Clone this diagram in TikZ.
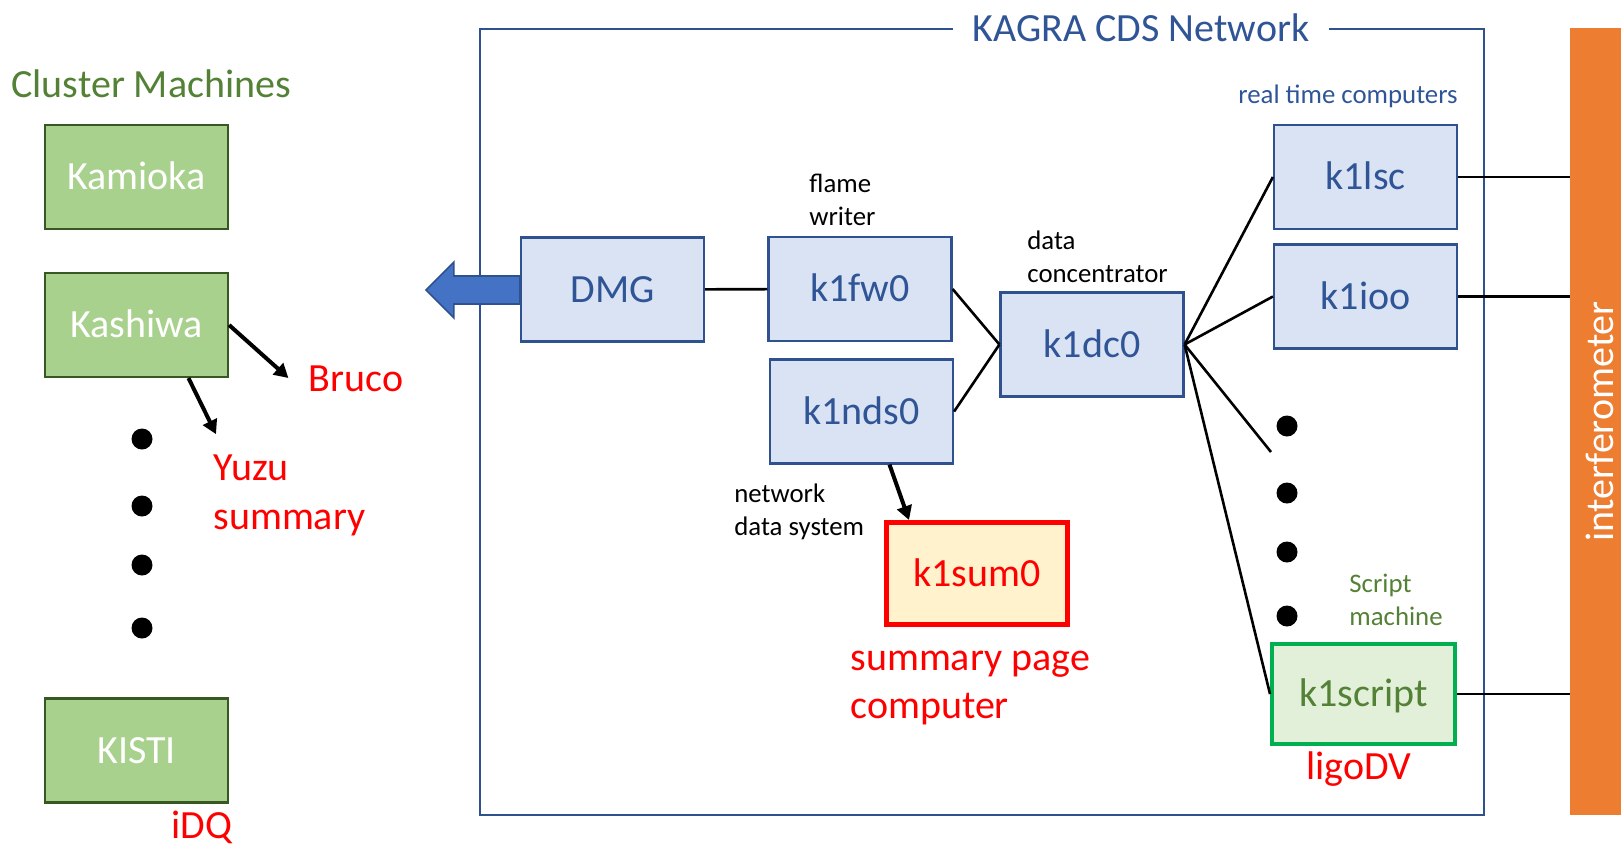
\documentclass[tikz,border=0pt]{standalone}
\usepackage{fontspec}
\setmainfont{Carlito}
\usepackage{tikz}
\usetikzlibrary{arrows.meta}

\definecolor{clustergreen}{HTML}{A9D18E}
\definecolor{clusterline}{HTML}{385723}
\definecolor{darkgreen}{HTML}{538135}
\definecolor{cdsblue}{HTML}{2F5597}
\definecolor{cdsline}{HTML}{2F528F}
\definecolor{cdsfill}{HTML}{DAE3F3}
\definecolor{arrowblue}{HTML}{4472C4}
\definecolor{sumfill}{HTML}{FFF2CC}
\definecolor{scriptfill}{HTML}{E2F0D9}
\definecolor{scriptline}{HTML}{00B050}
\definecolor{ifoorange}{HTML}{ED7D31}

\tikzset{
  bigtext/.style={font=\fontsize{20}{24.4}\selectfont},
  smalltext/.style={font=\fontsize{13.4}{16.3}\selectfont},
  remark/.style={inner sep=0pt, align=left},
  boxbase/.style={bigtext, minimum width=91.5pt, minimum height=52pt, text height=12.9pt, text depth=0pt},
  cluster/.style={boxbase, draw=clusterline, line width=1.1pt, fill=clustergreen, text=white},
  machine/.style={boxbase, draw=cdsline, line width=1.1pt, fill=cdsfill, text=cdsblue},
  sumbox/.style={boxbase, draw=red, line width=2.5pt, fill=sumfill, text=red, minimum width=90.5pt, minimum height=51pt},
  scriptbox/.style={boxbase, draw=scriptline, line width=2pt, fill=scriptfill, text=darkgreen, minimum width=91.5pt, minimum height=50pt},
  dotmark/.style={circle, fill=black, inner sep=0pt, minimum size=10.5pt},
  link/.style={line width=1.3pt},
  pointer/.style={line width=2pt, -{Triangle[length=7pt,width=7.5pt]}},
  cdsframe/.style={draw=cdsline, line width=1.2pt}
}

\begin{document}
\begin{tikzpicture}[x=0.5pt, y=-0.5pt]
    \useasboundingbox (0,0) rectangle (1621,847);

    % Cluster machines
    \node[remark, bigtext, text=darkgreen, anchor=west] (clusters) at (11,84) {Cluster Machines};
    \node[cluster] (kamioka) at (136.5,177) {Kamioka};
    \node[cluster] (kashiwa) at (136.5,325) {Kashiwa};
    \node[cluster] (kisti) at (136.5,750.5) {KISTI};
    \foreach \y in {439,506,565,628}
        \node[dotmark] (cdot\y) at (142,\y) {};
    \node[remark, bigtext, text=red] (bruco) at (356,379) {Bruco};
    \node[remark, bigtext, text=red, anchor=west] (yuzu) at (213,495) {Yuzu\\summary};
    \node[remark, bigtext, text=red] (idq) at (202,827) {iDQ};
    \draw[pointer] (kashiwa.east) -- ([shift={(-20,-1)}]bruco.west);
    \draw[pointer] ([xshift=26pt]kashiwa.south) -- ([shift={(3,-20)}]yuzu.north west);

    % KAGRA CDS network
    \draw[cdsframe] (480,29) rectangle (1484,815);
    \node[remark, bigtext, text=cdsblue, fill=white, inner xsep=10pt] (cdstitle) at (1141,28) {KAGRA CDS Network};

    \node[machine] (dmg) at (612.5,289.5) {DMG};
    \node[machine] (k1fw0) at (860,289) {k1fw0};
    \node[machine] (k1nds0) at (861.5,411.5) {k1nds0};
    \node[machine] (k1dc0) at (1092,344.5) {k1dc0};
    \node[machine] (k1lsc) at (1365.5,177) {k1lsc};
    \node[machine] (k1ioo) at (1365.5,296.5) {k1ioo};
    \node[sumbox] (k1sum0) at (977,573.5) {k1sum0};
    \node[scriptbox] (k1script) at (1363.5,694) {k1script};

    \node[remark, smalltext, anchor=west] (fwnote) at (809,200) {flame\\writer};
    \node[remark, smalltext, anchor=west] (dcnote) at (1027,257) {data\\concentrator};
    \node[remark, smalltext, anchor=west] (ndsnote) at (734,512) {network\\data system};
    \node[remark, smalltext, text=cdsblue] (rtnote) at (1348,96) {real time computers};
    \node[remark, smalltext, text=darkgreen, anchor=west] (scriptnote) at (1349,600) {Script\\machine};
    \node[remark, bigtext, text=red, anchor=west] (sumnote) at (850,688) {summary page\\computer};
    \node[remark, bigtext, text=red] (ligodv) at (1359,769) {ligoDV};
    \foreach \y in {426,493,552,616}
        \node[dotmark] (rdot\y) at (1287,\y) {};

    % interferometer
    \node[fill=ifoorange, inner sep=0pt, minimum width=25.5pt, minimum height=393.5pt] (ifo) at (1595.5,421.5) {};
    \node[remark, bigtext, text=white, rotate=90] (ifotext) at ([xshift=2pt]ifo.center) {interferometer};

    % connections
    \draw[link] (dmg) -- (k1fw0);
    \draw[link] (k1fw0.east) -- (k1dc0.west);
    \draw[link] (k1nds0.east) -- (k1dc0.west);
    \coordinate (dotend) at (1271,452);
    \draw[link] (k1dc0.east) -- (dotend);
    \foreach \n in {k1lsc,k1ioo,k1script} {
        \draw[link] (k1dc0.east) -- (\n.west);
        \draw[link] (\n.east) -- (\n.east -| ifo.west);
    }
    \draw[pointer] ([xshift=14pt]k1nds0.south) -- ([xshift=-34pt]k1sum0.north);

    % export arrow
    \filldraw[fill=arrowblue, draw=cdsline, line width=0.8pt] (dmg.west) ++(0,-13.5) -- ++(-66,0) -- ++(0,-14)
        -- ++(-28,28) -- ++(28,28) -- ++(0,-14) -- ++(66,0) -- cycle;
\end{tikzpicture}
\end{document}
